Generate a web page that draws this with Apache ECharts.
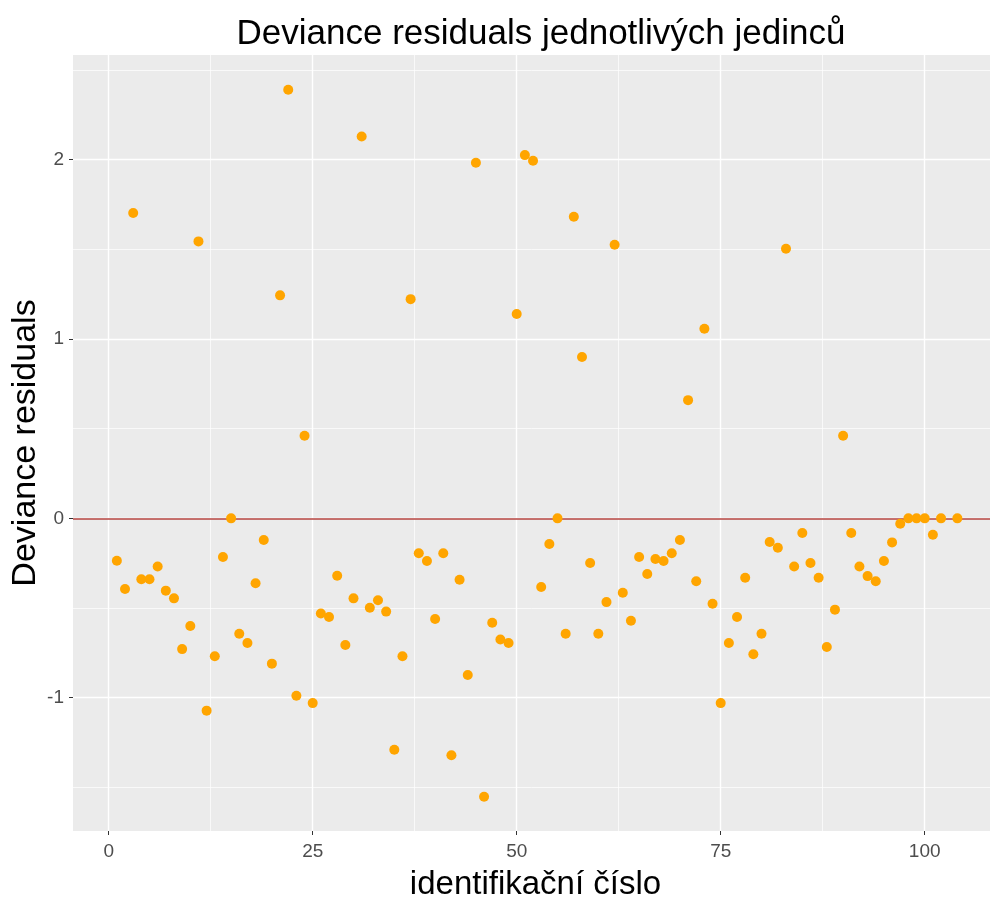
<!DOCTYPE html>
<html>
<head>
<meta charset="utf-8">
<script src="https://cdn.jsdelivr.net/npm/echarts@6/dist/echarts.min.js"></script>
<style>
  html, body { margin: 0; padding: 0; background: #ffffff; }
  #chart { width: 990px; height: 897px; }
</style>
</head>
<body>
<div id="chart"></div>
<script>
// Individual IDs (103 has no residual)
const ids = [
  1, 2, 3, 4, 5, 6, 7, 8, 9, 10,
  11, 12, 13, 14, 15, 16, 17, 18, 19, 20,
  21, 22, 23, 24, 25, 26, 27, 28, 29, 30,
  31, 32, 33, 34, 35, 36, 37, 38, 39, 40,
  41, 42, 43, 44, 45, 46, 47, 48, 49, 50,
  51, 52, 53, 54, 55, 56, 57, 58, 59, 60,
  61, 62, 63, 64, 65, 66, 67, 68, 69, 70,
  71, 72, 73, 74, 75, 76, 77, 78, 79, 80,
  81, 82, 83, 84, 85, 86, 87, 88, 89, 90,
  91, 92, 93, 94, 95, 96, 97, 98, 99, 100,
  101, 102, 104
];

// Deviance residual of each individual
const residuals = [
  -0.236, -0.394, 1.702, -0.340, -0.340, -0.268, -0.403, -0.446, -0.729, -0.600,
  1.544, -1.072, -0.769, -0.216, 0.000, -0.643, -0.695, -0.362, -0.121, -0.810,
  1.243, 2.389, -0.989, 0.460, -1.030, -0.530, -0.550, -0.320, -0.706, -0.446,
  2.129, -0.498, -0.457, -0.520, -1.290, -0.769, 1.222, -0.195, -0.238, -0.561,
  -0.195, -1.321, -0.342, -0.873, 1.982, -1.552, -0.582, -0.675, -0.695, 1.139,
  2.025, 1.993, -0.383, -0.143, 0.000, -0.643, 1.681, 0.899, -0.249, -0.643,
  -0.467, 1.525, -0.415, -0.571, -0.216, -0.310, -0.227, -0.238, -0.195, -0.121,
  0.659, -0.351, 1.057, -0.476, -1.030, -0.695, -0.550, -0.331, -0.758, -0.643,
  -0.132, -0.164, 1.503, -0.268, -0.082, -0.249, -0.331, -0.717, -0.509, 0.460,
  -0.082, -0.268, -0.322, -0.351, -0.238, -0.134, -0.030, 0.000, 0.000, 0.000,
  -0.091, 0.000, 0.000
];

// Axis breaks
const xMajorTicks = [0, 25, 50, 75, 100];
const xMinorTicks = [12.5, 37.5, 62.5, 87.5];
const yMajorTicks = [-1, 0, 1, 2];
const yMinorTicks = [-1.5, -0.5, 0.5, 1.5, 2.5];
const referenceLevel = 0;

const xRange = [-4.375, 108.0];
const yRange = [-1.743, 2.583];

const points = ids.map((id, i) => [id, residuals[i]]);

const panelGrey = '#EBEBEB';
const tickGrey = '#4D4D4D';
const fontFamily = '"Liberation Sans", Arial, sans-serif';

function gridLine(w) { return { show: true, lineStyle: { color: '#ffffff', width: w } }; }

const chart = echarts.init(document.getElementById('chart'), null, { renderer: 'canvas' });

chart.setOption({
  animation: false,
  backgroundColor: '#ffffff',
  title: {
    text: 'Deviance residuals jednotlivých jedinců',
    left: 536,
    top: 12,
    textAlign: 'center',
    textStyle: { fontFamily: fontFamily, fontSize: 35, fontWeight: 'normal', color: '#000000' }
  },
  grid: {
    left: 73, right: 0, top: 55, bottom: 66,
    outerBoundsMode: 'none',
    containLabel: false,
    show: true, backgroundColor: panelGrey, borderWidth: 0
  },
  xAxis: [
    {
      type: 'value', min: xRange[0], max: xRange[1],
      axisLine: { show: false, onZero: false },
      axisTick: { show: true, customValues: xMajorTicks, length: 4, lineStyle: { color: '#333333', width: 1 } },
      axisLabel: { customValues: xMajorTicks, color: tickGrey, fontFamily: fontFamily, fontSize: 19, margin: 11 },
      splitLine: gridLine(1.4),
      name: 'identifikační číslo',
      nameLocation: 'middle',
      nameGap: 37,
      nameMoveOverlap: false,
      nameTextStyle: { fontFamily: fontFamily, fontSize: 33, color: '#000000', padding: [0, 0, 0, 8] }
    },
    {
      type: 'value', min: xRange[0], max: xRange[1], position: 'bottom',
      axisLine: { show: false, onZero: false },
      axisTick: { show: false, customValues: xMinorTicks },
      axisLabel: { show: false, customValues: xMinorTicks },
      splitLine: gridLine(0.7)
    }
  ],
  yAxis: [
    {
      type: 'value', min: yRange[0], max: yRange[1],
      axisLine: { show: false, onZero: false },
      axisTick: { show: true, customValues: yMajorTicks, length: 4, lineStyle: { color: '#333333', width: 1 } },
      axisLabel: { customValues: yMajorTicks, color: tickGrey, fontFamily: fontFamily, fontSize: 19, margin: 9 },
      splitLine: gridLine(1.4),
      name: 'Deviance residuals',
      nameLocation: 'middle',
      nameGap: 30,
      nameMoveOverlap: false,
      nameTextStyle: { fontFamily: fontFamily, fontSize: 34, color: '#000000' }
    },
    {
      type: 'value', min: yRange[0], max: yRange[1], position: 'left',
      axisLine: { show: false, onZero: false },
      axisTick: { show: false, customValues: yMinorTicks },
      axisLabel: { show: false, customValues: yMinorTicks },
      splitLine: gridLine(0.7)
    }
  ],
  series: [
    {
      type: 'scatter',
      xAxisIndex: 0, yAxisIndex: 0,
      data: points,
      symbol: 'circle',
      symbolSize: 10,
      itemStyle: { color: '#FFA500', opacity: 1 },
      silent: true,
      z: 3,
      markLine: {
        silent: true,
        symbol: ['none', 'none'],
        label: { show: false },
        lineStyle: { color: '#B5433F', width: 1.6, type: 'solid' },
        data: [{ yAxis: referenceLevel }],
        z: 2
      }
    }
  ]
});
</script>
</body>
</html>
